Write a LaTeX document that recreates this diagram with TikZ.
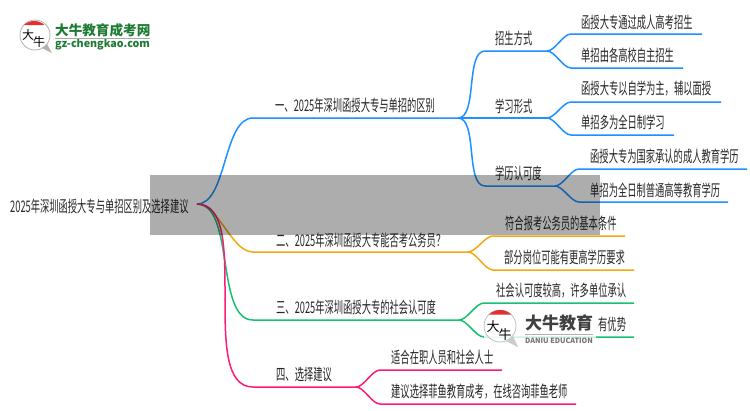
\documentclass[tikz,border=0pt]{standalone}
\usepackage{fontspec}
\setmainfont{Noto Sans CJK SC}
\newfontfamily\narrowcjk[FakeStretch=0.58]{Noto Sans CJK SC}
\newfontfamily\wordcjk{Noto Sans CJK SC}
\definecolor{bluebr}{HTML}{1E90FF}
\definecolor{orangebr}{HTML}{F5A80F}
\definecolor{greenbr}{HTML}{16C172}
\definecolor{pinkbr}{HTML}{FF1A75}
\definecolor{greenlogo}{HTML}{1E7B34}
\definecolor{redlogo}{HTML}{E03030}
\tikzset{
  txt/.style={anchor=west,inner sep=0pt,text=black!85,font=\narrowcjk\fontsize{16}{18}\selectfont},
  br/.style={line width=1.5pt},
  curve/.style={out=0,in=180,looseness=0.75},
  leaf/.style={out=0,in=180,looseness=0.7},
}
\begin{document}
\begin{tikzpicture}[x=1pt,y=-1pt]
  \useasboundingbox (0,0) rectangle (750,410);
  \fill[white] (0,0) rectangle (750,410);

  % root
  \node[txt] (root) at (10,206) {2025年深圳函授大专与单招区别及选择建议};
  \coordinate (r) at (197,204);

  % first group
  \node[txt] (a) at (275,105) {一、2025年深圳函授大专与单招的区别};
  \coordinate (a1) at (253,118);
  \coordinate (a2) at (458,118);
  \node[txt] (a_x) at (495,38) {招生方式};
  \coordinate (ax1) at (485,51);
  \coordinate (ax2) at (547,51);
  \node[txt] (a_y) at (495,106) {学习形式};
  \coordinate (ay2) at (547,118);
  \node[txt] (a_z) at (495,173) {学历认可度};
  \coordinate (az1) at (485,186);
  \coordinate (az2) at (555,186);

  \node[txt] (x1) at (581,22) {函授大专通过成人高考招生};
  \coordinate (x1a) at (571,34);
  \coordinate (x1b) at (702,34);
  \node[txt] (x2) at (581,55) {单招由各高校自主招生};
  \coordinate (x2a) at (571,68);
  \coordinate (x2b) at (683,68);
  \node[txt] (y1) at (581,89) {函授大专以自学为主，辅以面授};
  \coordinate (y1a) at (571,102);
  \coordinate (y1b) at (721,102);
  \node[txt] (y2) at (581,122) {单招多为全日制学习};
  \coordinate (y2a) at (571,135);
  \coordinate (y2b) at (674,135);
  \node[txt] (z1) at (590,156) {函授大专为国家承认的成人教育学历};
  \coordinate (z1a) at (579,169);
  \coordinate (z1b) at (747,169);
  \node[txt] (z2) at (590,190) {单招为全日制普通高等教育学历};
  \coordinate (z2a) at (579,202);
  \coordinate (z2b) at (728,202);

  % second group
  \node[txt] (b) at (276,240) {二、2025年深圳函授大专能否考公务员？};
  \coordinate (b1) at (253,252);
  \coordinate (b2) at (468,252);
  \node[txt] (b_x) at (505,223) {符合报考公务员的基本条件};
  \coordinate (bx1) at (493,236);
  \coordinate (bx2) at (625,236);
  \node[txt] (b_y) at (504,257) {部分岗位可能有更高学历要求};
  \coordinate (by1) at (493,270);
  \coordinate (by2) at (634,270);

  % third group
  \node[txt] (c) at (276,307) {三、2025年深圳函授大专的社会认可度};
  \coordinate (c1) at (253,320);
  \coordinate (c2) at (459,320);
  \node[txt] (c_x) at (496,291) {社会认可度较高，许多单位承认};
  \coordinate (cx1) at (484,303);
  \coordinate (cx2) at (634,303);
  \node[txt] (c_y) at (598,324) {有优势};
  \coordinate (cy1) at (484,337);
  \coordinate (cy2) at (634,337);

  % fourth group
  \node[txt] (d) at (276,374) {四、选择建议};
  \coordinate (d1) at (253,387);
  \coordinate (d2) at (356,387);
  \node[txt] (d_x) at (391,357) {适合在职人员和社会人士};
  \coordinate (dx1) at (380,370);
  \coordinate (dx2) at (502,370);
  \node[txt] (d_y) at (391,392) {建议选择菲鱼教育成考，在线咨询菲鱼老师};
  \coordinate (dy1) at (380,404);
  \coordinate (dy2) at (576,404);

  \draw[br,bluebr] (r) to[curve] (a1)--(a2);
  \draw[br,bluebr] (a2) to[leaf] (ax1)--(ax2);
  \draw[br,bluebr] (a2)--(ay2);
  \draw[br,bluebr] (a2) to[leaf] (az1)--(az2);
  \draw[br,bluebr] (ax2) to[leaf] (x1a)--(x1b);
  \draw[br,bluebr] (ax2) to[leaf] (x2a)--(x2b);
  \draw[br,bluebr] (ay2) to[leaf] (y1a)--(y1b);
  \draw[br,bluebr] (ay2) to[leaf] (y2a)--(y2b);
  \draw[br,bluebr] (az2) to[leaf] (z1a)--(z1b);
  \draw[br,bluebr] (az2) to[leaf] (z2a)--(z2b);

  \draw[br,orangebr] (r) to[curve] (b1)--(b2);
  \draw[br,orangebr] (b2) to[leaf] (bx1)--(bx2);
  \draw[br,orangebr] (b2) to[leaf] (by1)--(by2);

  \draw[br,greenbr] (r) to[curve] (c1)--(c2);
  \draw[br,greenbr] (c2) to[leaf] (cx1)--(cx2);
  \draw[br,greenbr] (c2) to[leaf] (cy1)--(cy2);

  \draw[br,pinkbr] (r) to[curve] (d1)--(d2);
  \draw[br,pinkbr] (d2) to[leaf] (dx1)--(dx2);
  \draw[br,pinkbr] (d2) to[leaf] (dy1)--(dy2);

  % grey band
  \fill[black,opacity=0.32] (150,175) rectangle (600,235);

  % logo top left
  \draw[gray!60,fill=white,line width=0.8pt] (35,35) circle (15);
  \fill[gray!60] (42,48)--(52,53)--(47,44)--cycle;
  \fill[redlogo] (24,25) arc (227:313:15)--cycle;
  \node[inner sep=0pt,font=\wordcjk\fontsize{12}{12}\selectfont] (lg1a) at (28,35) {大};
  \node[inner sep=0pt,font=\wordcjk\fontsize{12}{12}\selectfont] (lg1b) at (39,42) {牛};
  \node[anchor=west,inner sep=0pt,text=greenlogo,font=\wordcjk\bfseries\fontsize{13.6}{14}\selectfont] (lg1c) at (55,30) {大牛教育成考网};
  \node[anchor=west,inner sep=0pt,text=greenlogo,font=\wordcjk\bfseries\fontsize{10.7}{10}\selectfont] (lg1d) at (55,45) {gz-chengkao.com};
  \draw[gray!70,line width=1pt] (55,38.5)--(150,38.5);

  % logo bottom right
  \fill[white,opacity=0.8] (484,306) rectangle (596,346);
  \draw[gray!50,fill=white,fill opacity=0.6,line width=0.8pt] (500,326) circle (16);
  \fill[gray!40] (506,341)--(518,347)--(513,336)--cycle;
  \fill[redlogo] (489,314.5) arc (226:314:16)--cycle;
  \node[inner sep=0pt,font=\wordcjk\fontsize{13}{13}\selectfont] (lg2a) at (493,327) {大};
  \node[inner sep=0pt,font=\wordcjk\fontsize{13}{13}\selectfont] (lg2b) at (505,335) {牛};
  \node[anchor=west,inner sep=0pt,text=black!75,font=\wordcjk\bfseries\fontsize{17}{17}\selectfont] (lg2c) at (525,323) {大牛教育};
  \node[anchor=west,inner sep=0pt,text=black!55,font=\wordcjk\bfseries\fontsize{7.2}{8}\selectfont] (lg2d) at (525,341) {DANIU EDUCATION};
  \draw[gray!60,line width=0.6pt] (525,334)--(593,334);
\end{tikzpicture}
\end{document}
